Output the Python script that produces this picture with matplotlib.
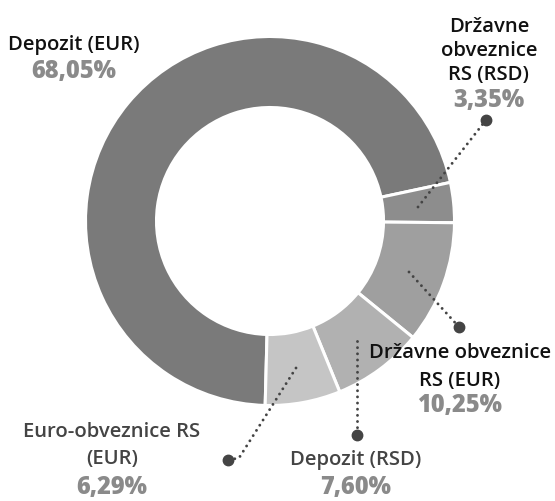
import matplotlib
matplotlib.use("Agg")
import matplotlib.pyplot as plt

W, H = 555, 501

# slices, clockwise from the bottom
labels = ["Depozit (EUR)", "Državne obveznice RS (RSD)", "Državne obveznice RS (EUR)",
          "Depozit (RSD)", "Euro-obveznice RS (EUR)"]
values = [68.05, 3.35, 10.25, 7.60, 6.29]
pct_text = ["68,05%", "3,35%", "10,25%", "7,60%", "6,29%"]
colors = ["#7a7a7a", "#8d8d8d", "#9f9f9f", "#b1b1b1", "#c5c5c5"]

FONT = ["Open Sans", "DejaVu Sans"]


def Y(y):
    # pixel row (from top) -> data y
    return H - y


fig = plt.figure(figsize=(W / 100, H / 100), dpi=100)
ax = fig.add_axes([0, 0, 1, 1])

ax.pie(values, colors=colors, startangle=268.5, counterclock=False,
       radius=184.5, center=(270, Y(221)),
       wedgeprops=dict(width=71, edgecolor="white", linewidth=2.2))
ax.set_xlim(0, W)
ax.set_ylim(0, H)
ax.set_aspect("equal")
ax.axis("off")

# leader lines (pixel coords), dot at the label end
leaders = [
    [(418, 207), (486, 120)],
    [(409, 272), (459, 327)],
    [(357, 341), (357, 435)],
    [(296, 368), (239, 458), (228, 460)],
]
for pts in leaders:
    xs = [p[0] for p in pts]
    ys = [Y(p[1]) for p in pts]
    ax.plot(xs, ys, color="#444444", lw=2.1, linestyle=(0, (0.01, 2.1)),
            dash_capstyle="round", zorder=5)
    ax.plot(xs[-1], ys[-1], "o", color="#444444", ms=7.5, zorder=6)

# text blocks: (center x, [baselines of name lines], name lines, pct baseline, colour)
blocks = [
    (74, [50], ["Depozit (EUR)"], 78, "#111111"),
    (489, [32, 56, 80], ["Državne", "obveznice", "RS (RSD)"], 107, "#111111"),
    (460, [358, 386], ["Državne obveznice", "RS (EUR)"], 412, "#111111"),
    (356, [465], ["Depozit (RSD)"], 494, "#444444"),
    (112, [437, 464], ["Euro-obveznice RS", "(EUR)"], 494, "#444444"),
]
for (cx, bases, lines, pb, col), pct in zip(blocks, pct_text):
    for b, t in zip(bases, lines):
        ax.text(cx, Y(b), t, ha="center", va="baseline", fontsize=14.6,
                family=FONT, weight="semibold", color=col)
    ax.text(cx, Y(pb), pct, ha="center", va="baseline", fontsize=17,
            family=FONT, weight="heavy", color="#8a8a8a")

fig.savefig("out.png", dpi=100)
